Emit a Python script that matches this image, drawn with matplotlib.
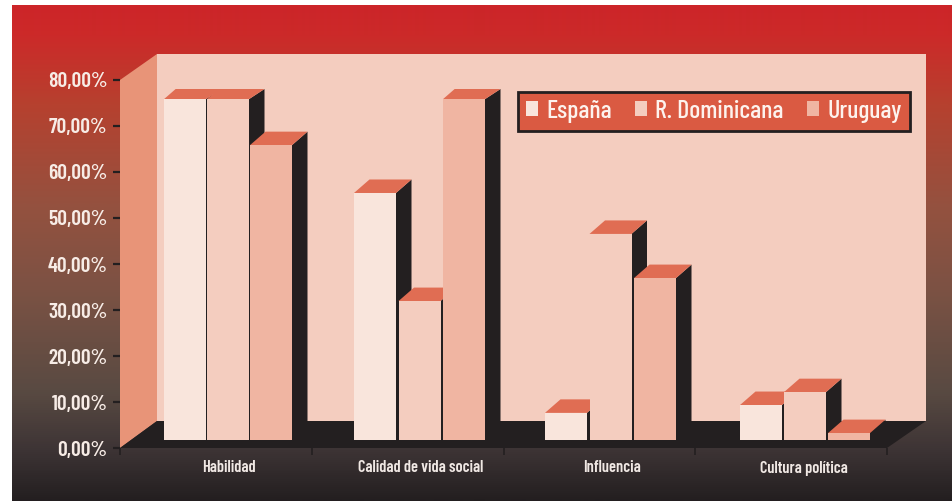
import matplotlib
matplotlib.use('Agg')
import matplotlib.pyplot as plt
import numpy as np
from matplotlib.colors import LinearSegmentedColormap
from matplotlib.patches import Patch

categories = ['Habilidad', 'Calidad de vida social', 'Influencia', 'Cultura política']
series = ['España', 'R. Dominicana', 'Uruguay']
espana = [74.1, 53.7, 5.9, 7.6]
dominicana = [74.1, 30.2, 44.8, 10.4]
uruguay = [64.1, 74.1, 35.2, 1.5]
y_ticks = [0, 10, 20, 30, 40, 50, 60, 70, 80]
y_tick_labels = ['0,00%', '10,00%', '20,00%', '30,00%', '40,00%', '50,00%', '60,00%', '70,00%', '80,00%']

W, H = 952, 501
# front plane of the 3d box, in pixels
X0, X1, Y0, Y1 = 120, 887, 448, 80
SLOT = (X1 - X0) / 4
UNIT = (Y0 - Y1) / 80

FONT = ['Barlow Condensed', 'Roboto', 'DejaVu Sans']
BAR_COLORS = ['#f9e5dc', '#f4cdbf', '#f0b5a2']
TOP = '#e06d53'
DARK = '#231f20'
WALL = '#f4cdbf'
SIDE_WALL = '#e89478'

fig = plt.figure(figsize=(W / 100, H / 100), dpi=100, facecolor='white')

# background gradient
bg = fig.add_axes([12 / W, 0, (W - 12) / W, (H - 5) / H])
cmap = LinearSegmentedColormap.from_list('bg', [
    (0.00, '#cc2529'), (0.06, '#cc2a29'), (0.20, '#b6412f'), (0.40, '#95513f'),
    (0.58, '#7b5244'), (0.78, '#594a42'), (0.90, '#3d3435'), (1.00, '#231f20')])
bg.imshow(np.linspace(0, 1, 496).reshape(-1, 1), aspect='auto', cmap=cmap, vmin=0, vmax=1)
bg.axis('off')

ax = fig.add_axes([X0 / W, 1 - Y0 / H, (X1 - X0) / W, (Y0 - Y1) / H])
ax.set_xlim(0, 4)
ax.set_ylim(0, 80)
ax.patch.set_alpha(0)
for s in ax.spines.values():
    s.set_visible(False)


def px(x):
    return (x - X0) / SLOT


def py(y):
    return (Y0 - y) / UNIT


# walls and floor
ax.fill([px(157), px(926), px(926), px(157)], [py(421), py(421), py(54), py(54)],
        color=WALL, lw=0, clip_on=False, zorder=1)
ax.fill([px(120), px(157), px(157), px(120)], [py(448), py(421), py(54), py(80)],
        color=SIDE_WALL, lw=0, clip_on=False, zorder=2)
ax.fill([px(120), px(887), px(926), px(157)], [py(448), py(448), py(421), py(421)],
        color=DARK, lw=0, clip_on=False, zorder=2)

# bars, drawn by hand to get the 3d look
group_left = [164, 354, 545, 740]
group_step = [43, 44.5, 44.5, 44]
BAR_W = 42 / SLOT
BASE = 8 / UNIT
DX = 15.5 / SLOT
DY = 13.5 / UNIT
CEILING = (Y0 - 89) / UNIT

z = 3
for i in range(len(categories)):
    for j, vals in enumerate([espana, dominicana, uruguay]):
        x0 = px(group_left[i] + j * group_step[i])
        x1 = x0 + BAR_W
        top = vals[i] + BASE
        back = min(top + DY, CEILING)
        skew = DX * (back - top) / DY
        ax.fill([x1, x1 + DX, x1 + DX, x1], [BASE, BASE + DY, back, top],
                color=DARK, lw=0, clip_on=False, zorder=z)
        ax.fill([x0, x1, x1 + DX, x0 + skew], [top, top, back, back],
                color=TOP, lw=0, clip_on=False, zorder=z + 1)
        ax.fill([x0, x1, x1, x0], [BASE, BASE, top, top],
                color=BAR_COLORS[j], lw=0, clip_on=False, zorder=z + 2)
        z += 3

# axis ticks
ax.set_yticks(y_ticks)
ax.set_yticklabels(y_tick_labels, family=FONT, fontsize=15.5, fontweight='semibold', color='#f7ece6')
ax.set_xticks(range(5))
ax.set_xticklabels([])
ax.set_xticks([i + 0.5 + 13 / SLOT for i in range(4)], minor=True)
ax.set_xticklabels(categories, minor=True, family=FONT, fontsize=11.8, fontweight='semibold', color='#f0e8e4')
ax.tick_params(axis='y', length=5, width=1.6, color=DARK, pad=4)
ax.tick_params(axis='x', which='major', length=5, width=1.2, color=DARK)
ax.tick_params(axis='x', which='minor', length=0, pad=9)

# legend
handles = [Patch(facecolor=c, edgecolor='none') for c in BAR_COLORS]
leg = ax.legend(handles, series, ncols=3, loc='upper left',
                bbox_to_anchor=(px(518) / 4, py(92) / 80), borderaxespad=0,
                fancybox=False, framealpha=1, facecolor='#da5a42', edgecolor=DARK,
                handlelength=0.47, handleheight=0.47, handletextpad=0.32, columnspacing=0.9,
                borderpad=0.3, prop={'family': FONT, 'size': 18.6, 'weight': 'medium'})
leg.get_frame().set_linewidth(2)
leg.set_zorder(100)
for t in leg.get_texts():
    t.set_color('#fdf3ee')

fig.savefig('out.png', dpi=100)
